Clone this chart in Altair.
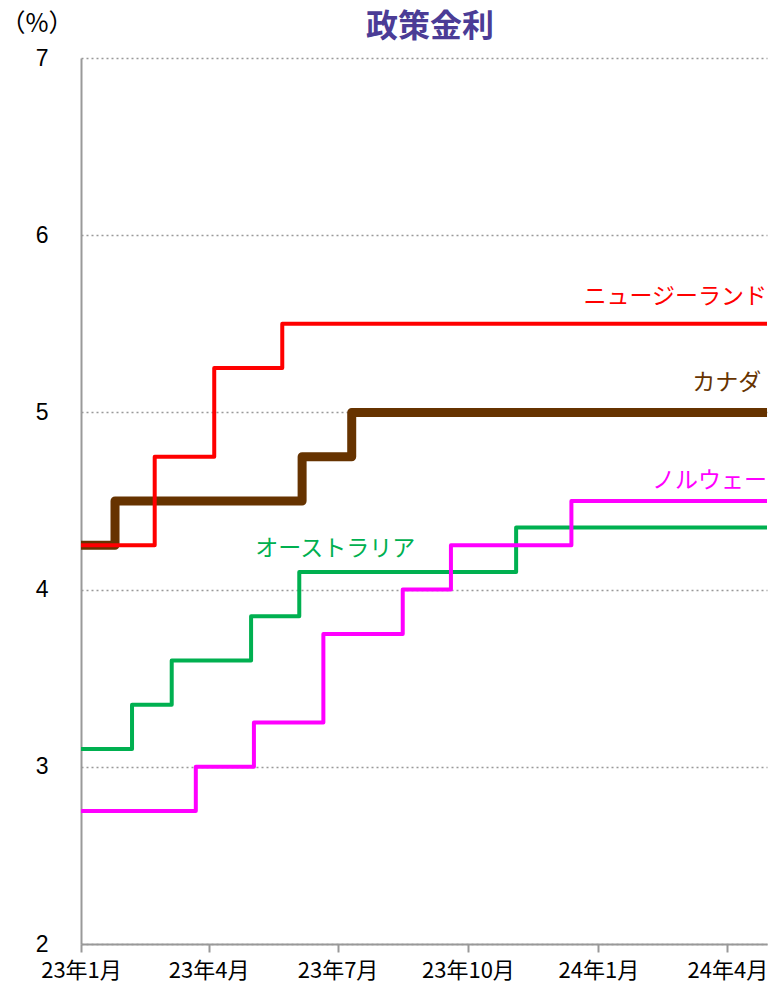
import altair as alt
import pandas as pd

# Policy rates (step changes)
nz_dates = ["2023-01-01", "2023-02-22", "2023-04-05", "2023-05-23", "2024-04-29"]
nz_rates = [4.25, 4.75, 5.25, 5.50, 5.50]
ca_dates = ["2023-01-01", "2023-01-25", "2023-06-06", "2023-07-11", "2024-04-29"]
ca_rates = [4.25, 4.50, 4.75, 5.00, 5.00]
au_dates = ["2023-01-01", "2023-02-06", "2023-03-06", "2023-05-01", "2023-06-04", "2023-11-04", "2024-04-29"]
au_rates = [3.10, 3.35, 3.60, 3.85, 4.10, 4.35, 4.35]
no_dates = ["2023-01-01", "2023-03-23", "2023-05-03", "2023-06-21", "2023-08-16", "2023-09-19", "2023-12-13", "2024-04-29"]
no_rates = [2.75, 3.00, 3.25, 3.75, 4.00, 4.25, 4.50, 4.50]

countries = ["カナダ", "オーストラリア", "ノルウェー", "ニュージーランド"]
colors = ["#663300", "#00B050", "#FF00FF", "#FF0000"]
widths = [9, 4, 4, 4]

tick_dates = ["2023-01-01", "2023-04-01", "2023-07-01", "2023-10-01", "2024-01-01", "2024-04-01"]
y_ticks = [2, 3, 4, 5, 6, 7]

# label anchors (date, rate) for series names
label_dates = ["2024-04-25", "2023-05-04", "2024-04-29", "2024-04-29"]
label_rates = [5.00, 4.10, 4.50, 5.50]
label_align = ["right", "left", "right", "right"]
label_dy = [-22, -16, -13, -20]

title_text = "政策金利"
unit_text = "（%）"

series = [ca_dates, au_dates, no_dates, nz_dates]
rates = [ca_rates, au_rates, no_rates, nz_rates]

W, H = 686, 886

x_scale = alt.Scale(type="utc", domain=["2023-01-01", "2024-04-29"], nice=False)
y_scale = alt.Scale(domain=[2, 7], nice=False)

layers = []
for i, name in enumerate(countries):
    df = pd.DataFrame({"date": series[i], "rate": rates[i], "country": name})
    line = alt.Chart(df).mark_line(
        interpolate="step-after", color=colors[i], strokeWidth=widths[i],
        strokeJoin="round", strokeCap="butt"
    ).encode(
        x=alt.X("date:T", scale=x_scale),
        y=alt.Y("rate:Q", scale=y_scale),
    )
    layers.append(line)

for i, name in enumerate(countries):
    ldf = pd.DataFrame({"date": [label_dates[i]], "rate": [label_rates[i]], "label": [name]})
    txt = alt.Chart(ldf).mark_text(
        color=colors[i], fontSize=23, font="Noto Sans CJK JP", align=label_align[i],
        baseline="alphabetic", dy=label_dy[i]
    ).encode(
        x=alt.X("date:T", scale=x_scale),
        y=alt.Y("rate:Q", scale=y_scale),
        text="label:N",
    )
    layers.append(txt)

ticks_vals = [alt.DateTime(year=int(d[:4]), month=int(d[5:7]), date=1, utc=True) for d in tick_dates]

base_axes = alt.Chart(pd.DataFrame({"date": ["2023-01-01"], "rate": [2]})).mark_point(opacity=0).encode(
    x=alt.X("date:T", scale=x_scale, axis=alt.Axis(
        values=ticks_vals, title=None, grid=False,
        labelExpr="utcFormat(datum.value, '%y') + '年' + (utcmonth(datum.value) + 1) + '月'",
        labelFont="Noto Sans CJK JP", labelFontSize=22, labelColor="#000000",
        labelPadding=8, tickSize=8, tickColor="#999999", tickWidth=2,
        domainColor="#999999", domainWidth=2, labelOverlap=False, labelFlush=False,
    )),
    y=alt.Y("rate:Q", scale=y_scale, axis=alt.Axis(
        values=y_ticks, format="d", title=None,
        labelFont="Liberation Sans", labelFontSize=23, labelColor="#000000",
        labelPadding=33, ticks=False, grid=True, gridColor="#999999",
        gridDash=[2, 3], gridWidth=1.5, domainColor="#999999", domainWidth=2,
    )),
)

title_df = pd.DataFrame({"t": [title_text]})
title_mark = alt.Chart(title_df).mark_text(
    fontSize=32, fontWeight="bold", color="#4B3C96", font="Noto Sans CJK JP",
    align="center", baseline="middle"
).encode(x=alt.value(349), y=alt.value(-31), text="t:N")

unit_df = pd.DataFrame({"t": [unit_text]})
unit_mark = alt.Chart(unit_df).mark_text(
    fontSize=25, color="#000000", font="Noto Sans CJK JP",
    align="center", baseline="middle"
).encode(x=alt.value(-44), y=alt.value(-34), text="t:N")

chart = alt.layer(base_axes, *layers, title_mark, unit_mark).properties(
    width=W, height=H,
    autosize=alt.AutoSizeParams(type="none"),
    padding={"left": 73, "top": 50, "right": 2, "bottom": 40},
).configure_view(stroke=None)

chart.save("out.html", embed_options={"renderer": "svg", "actions": False})
